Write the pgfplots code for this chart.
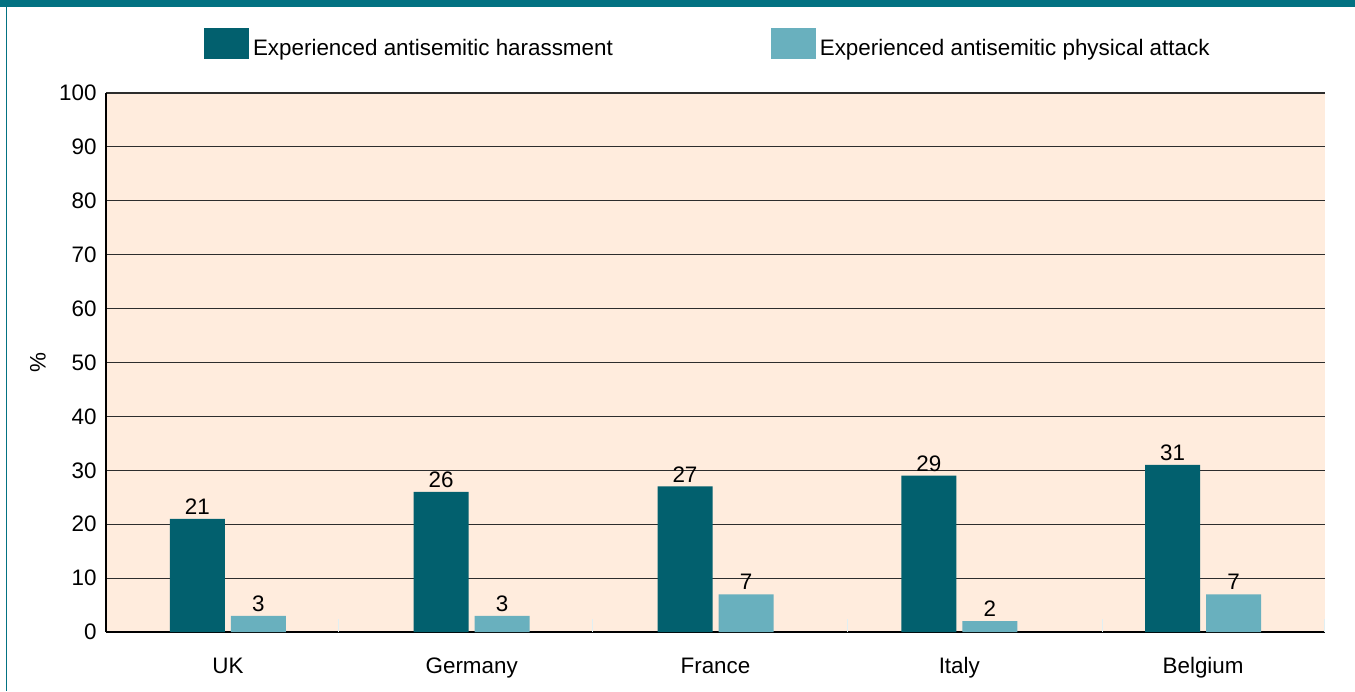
\documentclass[border=0pt]{standalone}
\usepackage{fontspec}
\setmainfont{Liberation Sans}
\usepackage{pgfplots}
\pgfplotsset{compat=1.18}

\definecolor{harass}{RGB}{2,96,110}
\definecolor{attack}{RGB}{105,176,190}
\definecolor{panel}{RGB}{255,236,221}
\definecolor{frame}{RGB}{3,114,130}
\definecolor{gridc}{RGB}{45,45,45}

\begin{document}
\begin{tikzpicture}[x=1pt,y=1pt,font=\fontsize{11.2}{13.4}\selectfont]
\useasboundingbox (0,0) rectangle (677.5,345.5);
% frame: top band and thin left rule
\fill[frame] (0,342) rectangle (677.5,345.5);
\fill[frame] (3,0) rectangle (3.6,345.5);
\begin{axis}[
  at={(53pt,29.5pt)}, anchor=south west,
  scale only axis, width=609.5pt, height=269.5pt,
  xmin=-0.5, xmax=4.5, ymin=0, ymax=100,
  ytick={0,10,...,100},
  xtick={0,...,4},
  xticklabels={UK,Germany,France,Italy,Belgium},
  major tick length=0pt,
  axis x line=bottom, axis y line=left,
  axis line style={-, black, line width=0.75pt},
  ymajorgrids, major grid style={gridc, line width=0.6pt},
  axis background/.style={fill=panel},
  /pgf/number format/assume math mode=true,
  xticklabel style={anchor=base, yshift=-20.5pt},
  yticklabel style={xshift=-1.2pt},
  ylabel={\%},
  ylabel style={at={(axis description cs:-0.0558,0.5)}, anchor=center},
  ybar, bar width=27.5pt,
  nodes near coords,
  every node near coord/.append style={inner sep=2pt, black},
  extra x ticks={0.4516,1.4975,2.543,3.589,4.496},
  extra x tick labels={},
  extra x tick style={grid=none, major tick length=6.5pt, tick align=inside,
    tick style={white!80!attack, line width=0.5pt}},
  legend columns=2,
  legend style={at={(axis description cs:0.4945,1.089)}, anchor=center,
    draw=none, fill=none,
    /tikz/every even column/.append style={column sep=77pt}},
]
\addplot[fill=harass, draw=none, bar shift=-15.25pt,
  legend image code/.code={\fill[harass] (-2pt,-4.9pt) rectangle (20.5pt,10.6pt);}]
  coordinates {(0,21) (1,26) (2,27) (3,29) (4,31)};
\addplot[fill=attack, draw=none, bar shift=15.25pt,
  legend image code/.code={\fill[attack] (-2pt,-4.9pt) rectangle (20.5pt,10.6pt);}]
  coordinates {(0,3) (1,3) (2,7) (3,2) (4,7)};
\legend{Experienced antisemitic harassment, Experienced antisemitic physical attack}
\end{axis}
\end{tikzpicture}
\end{document}
